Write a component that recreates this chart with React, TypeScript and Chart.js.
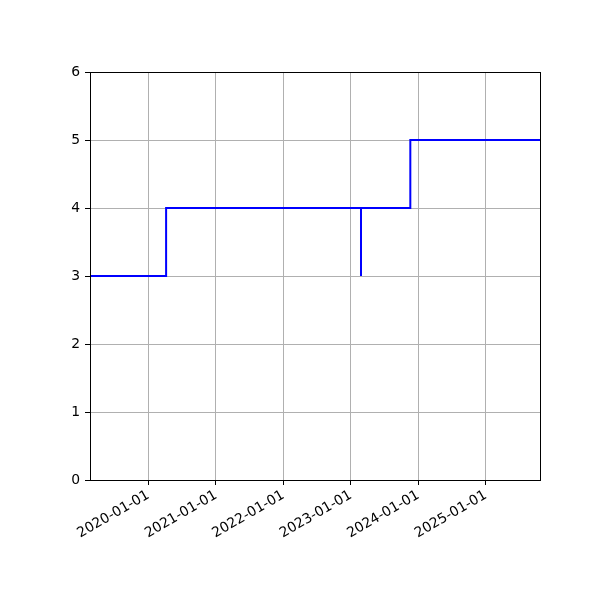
import Chart, { ChartConfiguration } from 'chart.js/auto';
import React, { useEffect, useRef } from 'react';

// step data (where='post'), dates as ISO strings
const dates = ['2019-02-19', '2020-04-06', '2023-02-25', '2023-02-25', '2023-11-19', '2025-10-21'];
const values = [3, 4, 3, 4, 5, 5];
const tickYears = [2020, 2021, 2022, 2023, 2024, 2025];
const yTicks = [0, 1, 2, 3, 4, 5, 6];

const toTime = (s: string) => {
  const [y, m, d] = s.split('-').map(Number);
  return Date.UTC(y, m - 1, d);
};

const fmtDate = (v: number) => {
  const d = new Date(v);
  const p = (n: number) => String(n).padStart(2, '0');
  return `${d.getUTCFullYear()}-${p(d.getUTCMonth() + 1)}-${p(d.getUTCDate())}`;
};

const font = { family: 'DejaVu Sans', size: 13.9 };

// matplotlib draws all four spines
const frame = {
  id: 'frame',
  afterDraw(chart: Chart) {
    const { ctx, chartArea: a } = chart;
    ctx.save();
    ctx.strokeStyle = 'black';
    ctx.lineWidth = 1;
    ctx.strokeRect(Math.round(a.left) + 0.5, Math.round(a.top) + 0.5, Math.round(a.right - a.left), Math.round(a.bottom - a.top));
    ctx.restore();
  },
};

const App: React.FC = () => {
  const chartRef = useRef<HTMLCanvasElement>(null);

  useEffect(() => {
    if (!chartRef.current) return;
    const ctx = chartRef.current.getContext('2d');
    if (!ctx) return;

    const points = dates.map((d, i) => ({ x: toTime(d), y: values[i] }));

    const config: ChartConfiguration = {
      type: 'line',
      data: {
        datasets: [
          {
            data: points,
            borderColor: 'blue',
            borderWidth: 2,
            pointRadius: 0,
            stepped: 'before',
            fill: false,
          },
        ],
      },
      options: {
        responsive: false,
        animation: false,
        layout: { padding: { top: 72, right: 60, left: 0, bottom: 0 } },
        plugins: { legend: { display: false }, tooltip: { enabled: false } },
        scales: {
          x: {
            type: 'linear',
            min: points[0].x,
            max: points[points.length - 1].x,
            afterBuildTicks: (scale: any) => {
              scale.ticks = tickYears.map((y) => ({ value: Date.UTC(y, 0, 1) }));
            },
            afterFit: (scale: any) => {
              scale.height = 120;
            },
            ticks: {
              callback: (v: any) => fmtDate(Number(v)),
              minRotation: 30,
              maxRotation: 30,
              autoSkip: false,
              color: 'black',
              font,
              padding: 2,
            },
            grid: { color: '#b0b0b0', lineWidth: 1, tickLength: 5, tickColor: 'black' },
            border: { color: 'black', width: 1 },
          },
          y: {
            min: 0,
            max: 6,
            afterBuildTicks: (scale: any) => {
              scale.ticks = yTicks.map((v) => ({ value: v }));
            },
            afterFit: (scale: any) => {
              scale.width = 90;
            },
            ticks: { color: 'black', font, padding: 5 },
            grid: { color: '#b0b0b0', lineWidth: 1, tickLength: 5, tickColor: 'black' },
            border: { color: 'black', width: 1 },
          },
        },
      },
      plugins: [frame],
    };

    const chart = new Chart(ctx, config);
    return () => chart.destroy();
  }, []);

  return (
    <div style={{ position: 'fixed', left: 0, top: 0, width: 600, height: 600, background: 'white' }}>
      <canvas ref={chartRef} width={600} height={600}></canvas>
    </div>
  );
};

export default App;
